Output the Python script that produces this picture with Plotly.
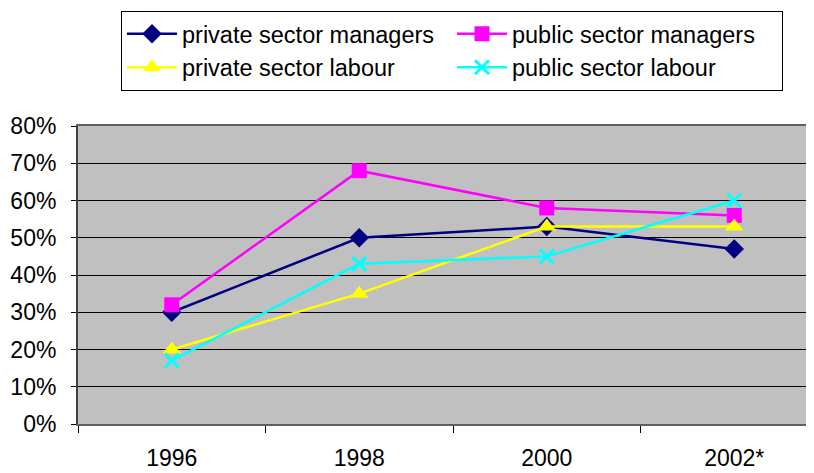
import plotly.graph_objects as go

years = ["1996", "1998", "2000", "2002*"]

private_managers = [30, 50, 53, 47]
public_managers = [32, 68, 58, 56]
private_labour = [20, 35, 53, 53]
public_labour = [17, 43, 45, 60]

y_ticks = [0, 10, 20, 30, 40, 50, 60, 70, 80]
y_labels = [f"{v}%" for v in y_ticks]

series = [
    ("private sector managers", private_managers, "#000080", "diamond", 15),
    ("public sector managers", public_managers, "#FF00FF", "square", 15),
    ("private sector labour", private_labour, "#FFFF00", "triangle-up", 16),
    ("public sector labour", public_labour, "#00FFFF", "x-thin", 14),
]

fig = go.Figure()
for name, vals, color, symbol, size in series:
    fig.add_trace(go.Scatter(
        x=years, y=vals, name=name, mode="lines+markers",
        line=dict(color=color, width=2.5),
        marker=dict(symbol=symbol, size=size, color=color,
                    line=dict(color=color, width=3 if symbol == "x-thin" else 0)),
    ))

font = "Liberation Sans, Arial, sans-serif"

# page body adds an 8px margin, so the figure is 8px smaller each way
fig.update_layout(
    width=806, height=465,
    margin=dict(l=70, r=0, t=118, b=49, autoexpand=False),
    paper_bgcolor="white",
    plot_bgcolor="#C0C0C0",
    font=dict(family=font, size=23, color="black"),
    showlegend=True,
    legend=dict(
        orientation="h",
        x=0.0584, y=1.386, xanchor="left", yanchor="top",
        bordercolor="black", borderwidth=1,
        font=dict(size=23.5),
        itemwidth=50,
        entrywidth=265,
        tracegroupgap=0,
    ),
)

fig.update_xaxes(
    type="category",
    range=[-0.5, -0.5 + 736 / 187.5],
    showgrid=False,
    showline=True, linecolor="#606060", linewidth=2, mirror=True,
    ticks="outside", tickson="boundaries", ticklen=7, tickcolor="black", tickwidth=1,
    ticklabelstandoff=12,
    automargin=False,
    fixedrange=True,
)
fig.update_yaxes(
    range=[0, 80],
    tickvals=y_ticks, ticktext=y_labels,
    showgrid=True, gridcolor="black", gridwidth=1,
    zeroline=False,
    showline=True, linecolor="#404040", linewidth=2,
    ticks="outside", ticklen=5, tickcolor="black",
    ticklabelstandoff=10,
    automargin=False,
    fixedrange=True,
)

fig.write_html("out.html")
